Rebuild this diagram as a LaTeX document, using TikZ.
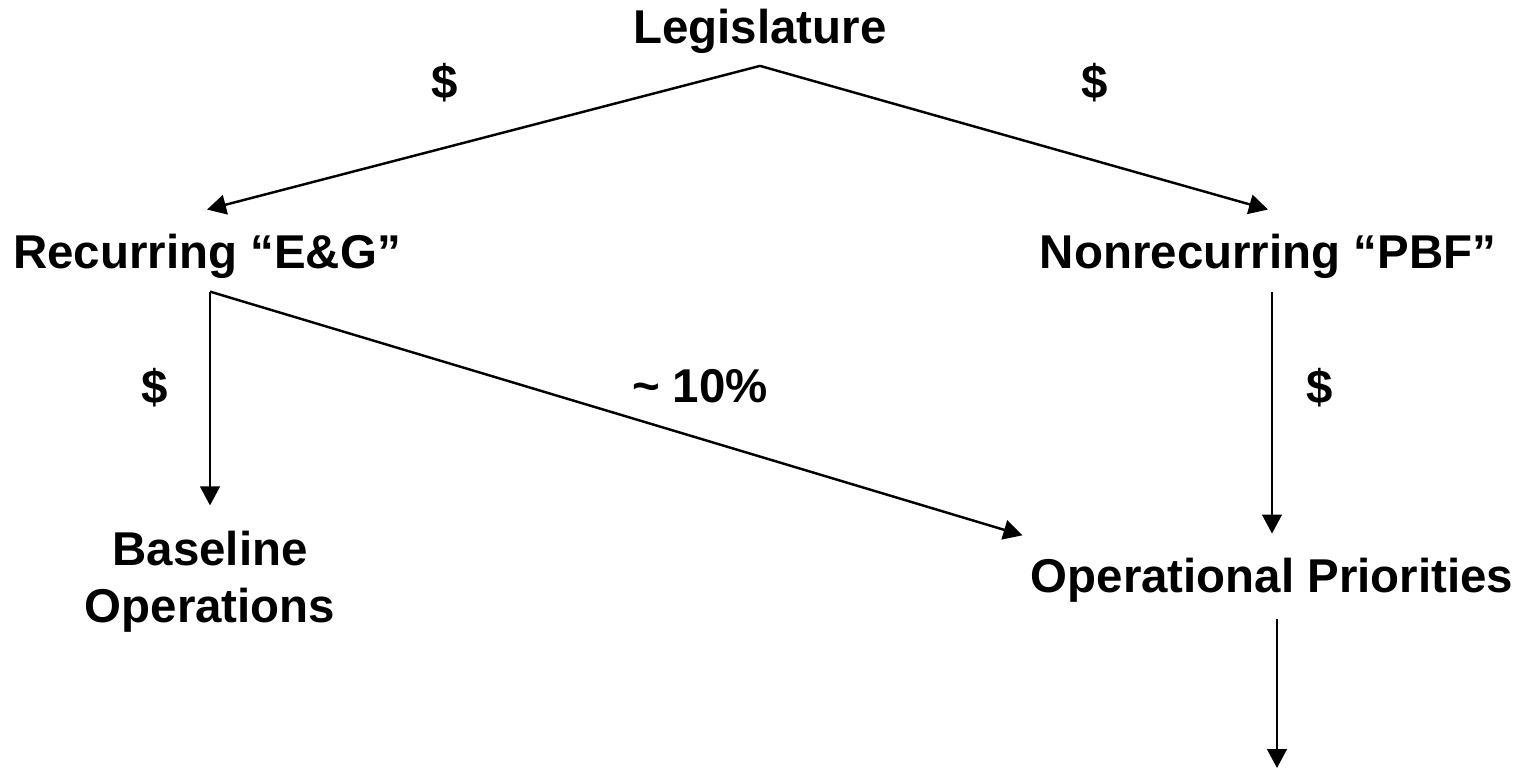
\documentclass[tikz,border=0pt]{standalone}
\usepackage{fontspec}
\setmainfont{Liberation Sans}
\usetikzlibrary{arrows.meta}
\begin{document}
\begin{tikzpicture}[>={Triangle[length = 5.4pt, width = 5.6pt]}, line width = 0.7pt,
    every node/.style = {font = \bfseries\fontsize{13.5}{16.2}\selectfont, inner sep = 0pt}]
      \useasboundingbox (0, 0) rectangle (15.35, -7.7);
      \node [anchor = base] (leg) at (7.6, -0.43) {Legislature};
      \node [anchor = base] (rec) at (2.07, -2.68) {Recurring “E\&G”};
      \node [anchor = base] (nonrec) at (12.68, -2.68) {Nonrecurring “PBF”};
      \node [anchor = north, align = center] (base) at (2.1, -5.3) {Baseline\\Operations};
      \node [anchor = base] (ops) at (12.72, -5.92) {Operational Priorities};
      \node (d1) at (4.45, -0.83) {\$};
      \node (d2) at (10.95, -0.83) {\$};
      \node (d3) at (1.55, -3.88) {\$};
      \node (d4) at (13.2, -3.88) {\$};
      \node [anchor = base] (pct) at (7.0, -4.02) {\textasciitilde{} 10\%};
      \coordinate (out) at (12.77, -7.68);
      \draw [->] ([yshift = -3.3pt] leg.south) -- ([yshift = 6.5pt] rec.north);
      \draw [->] ([yshift = -3.3pt] leg.south) -- ([yshift = 6.5pt] nonrec.north);
      \draw [->] ([yshift = -3.5pt] rec.south -| base.north) -- ([yshift = 7pt] base.north);
      \draw [->] ([yshift = -3.5pt] rec.south -| base.north) -- ([shift = {(-2pt, 6pt)}] ops.north west);
      \draw [->] ([yshift = -3.5pt] nonrec.south -| ops.north) -- ([yshift = 6.5pt] ops.north);
      \draw [->] ([yshift = -4.6pt] ops.south -| out) -- (out);
    \end{tikzpicture}
\end{document}
